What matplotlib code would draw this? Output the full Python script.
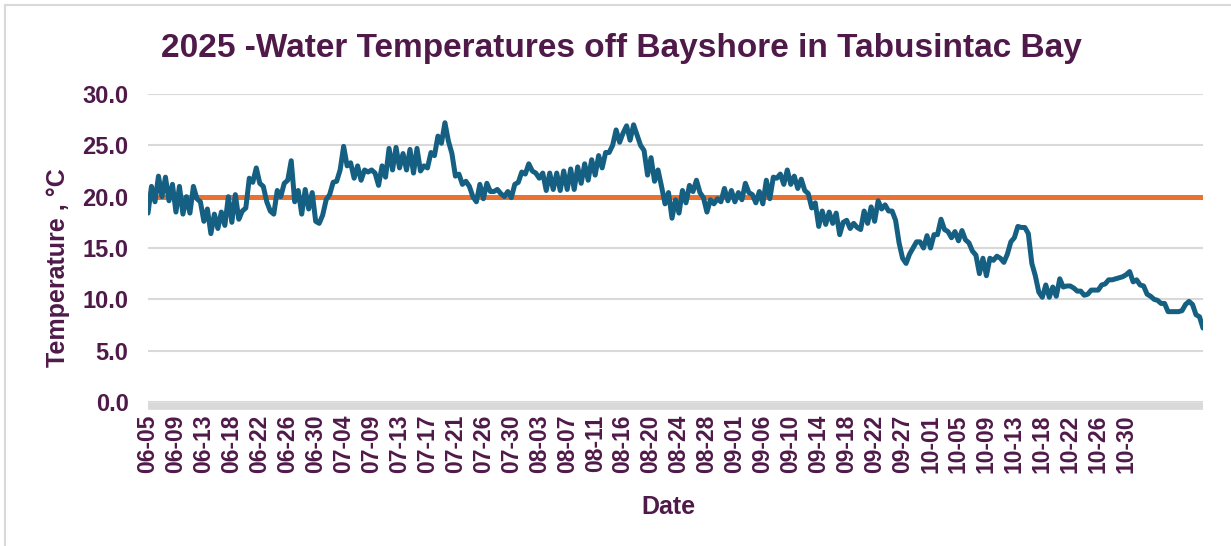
import matplotlib
matplotlib.use("Agg")
import matplotlib.pyplot as plt
from matplotlib.patches import Rectangle

# ---- data ----
title = "2025 -Water Temperatures off Bayshore in Tabusintac Bay"
x_label = "Date"
y_label = "Temperature , °C"
tick_labels = ["06-05", "06-09", "06-13", "06-18", "06-22", "06-26", "06-30",
               "07-04", "07-09", "07-13", "07-17", "07-21", "07-26", "07-30",
               "08-03", "08-07", "08-11", "08-16", "08-20", "08-24", "08-28",
               "09-01", "09-06", "09-10", "09-14", "09-18", "09-22", "09-27",
               "10-01", "10-05", "10-09", "10-13", "10-18", "10-22", "10-26",
               "10-30"]
points_per_label = 8
threshold = 20.0
temperature = [
    18.4, 21.0, 19.5, 22.0, 20.0, 21.9, 19.6, 21.2, 18.5, 21.0,
    18.3, 20.0, 18.4, 21.0, 19.8, 19.5, 17.6, 18.8, 16.4, 18.3,
    16.9, 18.5, 17.2, 20.0, 17.5, 20.2, 17.8, 18.6, 18.9, 21.8,
    21.4, 22.8, 21.3, 21.0, 19.5, 18.6, 18.3, 20.6, 20.0, 21.3,
    21.6, 23.5, 19.5, 20.6, 18.3, 20.7, 18.8, 20.4, 17.6, 17.4,
    18.2, 19.7, 20.2, 21.4, 21.5, 22.6, 24.9, 23.0, 23.3, 21.8,
    23.0, 21.6, 22.6, 22.4, 22.6, 22.3, 21.1, 23.0, 21.9, 24.7,
    22.6, 24.8, 22.8, 24.2, 22.6, 24.6, 22.3, 24.7, 22.5, 23.0,
    22.8, 24.3, 24.0, 25.9, 25.2, 27.2, 25.4, 24.2, 22.0, 22.2,
    21.2, 21.5, 21.0, 20.0, 19.5, 21.2, 19.8, 21.3, 20.5, 20.5,
    20.7, 20.3, 20.0, 20.5, 19.9, 21.2, 21.4, 22.4, 22.2, 23.2,
    22.5, 22.3, 21.8, 22.3, 20.6, 22.3, 20.7, 22.3, 20.6, 22.5,
    20.7, 22.7, 20.7, 22.9, 21.3, 23.2, 21.6, 23.6, 22.1, 24.0,
    22.8, 24.3, 24.3, 25.0, 26.5, 25.3, 26.2, 26.9, 25.5, 27.0,
    26.0, 25.0, 24.5, 22.1, 23.8, 21.5, 22.6, 21.0, 19.3, 20.4,
    17.9, 19.7, 18.4, 20.6, 19.4, 21.1, 20.5, 21.6, 20.4, 19.9,
    18.5, 19.7, 19.3, 19.8, 19.5, 20.8, 19.6, 20.6, 19.5, 20.4,
    19.7, 21.3, 20.4, 20.2, 19.4, 20.5, 19.3, 21.6, 19.8, 21.9,
    21.8, 22.2, 21.2, 22.6, 21.2, 22.0, 20.8, 21.7, 20.6, 20.3,
    18.9, 19.4, 17.1, 18.6, 17.3, 18.5, 17.4, 18.4, 16.3, 17.5,
    17.7, 16.9, 17.4, 17.0, 16.8, 18.6, 17.4, 19.0, 17.6, 19.6,
    18.8, 19.2, 18.6, 18.6, 17.7, 15.5, 14.0, 13.5, 14.4, 15.0,
    15.6, 15.6, 15.0, 16.2, 15.0, 16.3, 16.3, 17.8, 16.8, 16.6,
    16.0, 16.6, 15.7, 16.7, 15.8, 15.5, 14.7, 14.3, 12.5, 14.0,
    12.3, 14.0, 13.8, 14.2, 14.0, 13.6, 14.4, 15.6, 16.0, 17.1,
    17.0, 17.0, 16.4, 13.5, 12.3, 10.7, 10.2, 11.4, 10.2, 11.2,
    10.3, 12.0, 11.2, 11.3, 11.3, 11.1, 10.8, 10.8, 10.4, 10.5,
    10.9, 10.9, 10.9, 11.4, 11.5, 11.9, 11.9, 12.0, 12.1, 12.2,
    12.4, 12.7, 11.7, 11.9, 11.4, 11.3, 10.5, 10.3, 10.0, 9.9,
    9.6, 9.6, 8.8, 8.8, 8.8, 8.8, 8.9, 9.5, 9.8, 9.5,
    8.5, 8.3, 7.2,
]
y_ticks = [0, 5, 10, 15, 20, 25, 30]

# ---- style ----
TXT = "#4f1a4a"
BLUE = "#156082"
ORANGE = "#e97132"
GRID = "#d9d9d9"
plt.rcParams['font.family'] = ['Liberation Sans', 'DejaVu Sans']

W, H = 1231, 546
fig = plt.figure(figsize=(W / 100, H / 100), dpi=100)
fig.patch.set_facecolor("white")

# chart frame (top and left edges visible)
fig.patches.append(Rectangle((5 / W, -0.1), 1.2, 1 - 5 / H + 0.1,
                             transform=fig.transFigure, fill=False,
                             edgecolor=GRID, lw=1.5, zorder=0))

ax = fig.add_axes([148 / W, 1 - 402 / H, (1203 - 148) / W, (402 - 94) / H])

# spines first (set_position resets tick label properties)
for s in ["top", "right", "left"]:
    ax.spines[s].set_visible(False)
ax.spines["bottom"].set_position(("outward", 3))
ax.spines["bottom"].set_color(GRID)
ax.spines["bottom"].set_linewidth(5.5)
ax.spines["bottom"].set_capstyle("butt")

n = len(temperature)
xs = list(range(n))
ax.plot(xs, [threshold] * n, color=ORANGE, lw=3.6, solid_capstyle="butt", zorder=3)
ax.plot(xs, temperature, color=BLUE, lw=3.6, solid_joinstyle="round",
        solid_capstyle="round", zorder=4)

ax.set_xlim(0, n - 1)
ax.set_ylim(0, 30)
ax.tick_params(axis="both", length=0, labelcolor=TXT)
ax.tick_params(axis="x", pad=6)
ax.tick_params(axis="y", pad=14)
ax.set_yticks(y_ticks)
ax.set_yticklabels([f"{v:.1f}" for v in y_ticks], fontsize=17, fontweight="bold")
ax.set_xticks([i * points_per_label for i in range(len(tick_labels))])
ax.set_xticklabels(tick_labels, rotation=90, fontsize=16.5, fontweight="bold")

ax.grid(axis="y", color=GRID, lw=1.5)
ax.grid(axis="x", visible=False)
ax.set_axisbelow(True)

fig.text(58 / W, 1 - 268 / H, y_label, rotation=90, ha="center", va="center",
         color=TXT, fontsize=18, fontweight="bold")
fig.text(668 / W, 1 - 507 / H, x_label, ha="center", va="center",
         color=TXT, fontsize=18, fontweight="bold")
fig.text(621 / W, 1 - 48 / H, title, ha="center", va="center", color=TXT,
         fontsize=24, fontweight="bold",
         family=['Liberation Sans Narrow', 'Liberation Sans', 'DejaVu Sans'])

fig.savefig("out.png", dpi=100, facecolor="white")
